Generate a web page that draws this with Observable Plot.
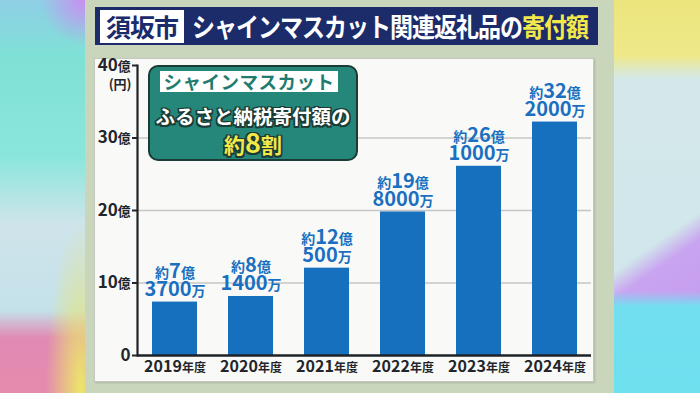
<!DOCTYPE html>
<html><head><meta charset="utf-8">
<script src="https://cdn.jsdelivr.net/npm/d3@7"></script>
<script src="https://cdn.jsdelivr.net/npm/@observablehq/plot@0.6"></script>
<style>
html,body{margin:0;padding:0;}
body{width:700px;height:393px;overflow:hidden;position:relative;font-family:"Noto Sans CJK JP","Noto Sans",sans-serif;}
.abs{position:absolute;}
#leftStrip{left:0;top:0;width:85px;height:393px;
 background:
  radial-gradient(circle at 100% 0%, #c98ef0 0px, rgba(201,142,240,0) 45px),
  radial-gradient(ellipse at 95% 100%, #ece66a 0px, rgba(236,230,106,0) 35px),
  linear-gradient(to bottom,#8fcfe6 0%,#7fe0d6 14%,#8ae6dc 40%,#cfe4ea 57%,#c4e1ea 79%,#e08ab4 86%,#e48bae 97%);}
#rightStrip{left:614px;top:0;width:86px;height:393px;
 background:
  linear-gradient(to bottom, rgba(112,224,238,0) 74%, #72dff0 78%, #6ee0ee 100%),
  linear-gradient(145deg, rgba(200,160,240,0) 60%, #c9a4f0 66%, #c49cf0 85%),
  linear-gradient(to bottom,#ece57e 0%,#eee888 14%,#d4e8ea 20%,#cfe6ec 100%);}
#midPanel{left:85px;top:0;width:529px;height:393px;background:#c9d6bc;}
#whitePanel{left:94px;top:58px;width:498px;height:322px;background:#f9faf7;border:1px solid #c3c8c0;box-shadow:1px 1px 2px rgba(0,0,0,0.15);}
#titleBar{left:95px;top:7px;width:503px;height:38px;background:#1c2b6a;}
#titleBox{left:100px;top:10px;width:84px;height:33px;background:#fff;color:#1c2b6a;font-size:25px;font-weight:bold;line-height:33px;text-align:center;letter-spacing:-1px;}
#titleText{left:192px;top:7px;height:38px;line-height:38px;font-size:23px;font-weight:bold;color:#fff;letter-spacing:-1px;white-space:nowrap;transform:scaleY(1.15);transform-origin:left center;}
#titleText .hl{color:#f3e84a;}
#legendBox{left:148px;top:65px;width:206px;height:92px;background:#24877a;border:2px solid #1b3c36;border-radius:10px;}
#legendTop{left:160px;top:71px;width:178px;height:21px;background:#fff;color:#217c6f;font-size:18.5px;font-weight:bold;line-height:21px;text-align:center;letter-spacing:0.5px;white-space:nowrap;}
.outl{text-shadow:-1.5px -1.5px 0 #1b3c36,1.5px -1.5px 0 #1b3c36,-1.5px 1.5px 0 #1b3c36,1.5px 1.5px 0 #1b3c36,0 1.5px 0 #1b3c36,0 -1.5px 0 #1b3c36,1.5px 0 0 #1b3c36,-1.5px 0 0 #1b3c36;}
#legendMid{left:148px;top:104px;width:210px;text-align:center;color:#fff;font-size:19.5px;font-weight:bold;line-height:24px;white-space:nowrap;}
#legendBot{left:148px;top:128px;width:210px;text-align:center;color:#f3e84a;font-size:21px;font-weight:bold;line-height:28px;white-space:nowrap;}
#legendBot .big{font-size:27px;}
#chart{left:0;top:0;}
</style></head>
<body>
<div id="leftStrip" class="abs"></div>
<div id="midPanel" class="abs"></div>
<div id="rightStrip" class="abs"></div>
<div id="titleBar" class="abs"></div>
<div id="titleBox" class="abs">須坂市</div>
<div id="titleText" class="abs">シャインマスカット関連返礼品の<span class="hl">寄付額</span></div>
<div id="whitePanel" class="abs"></div>
<div id="chart" class="abs"></div>
<div id="legendBox" class="abs"></div>
<div id="legendTop" class="abs">シャインマスカット</div>
<div id="legendMid" class="abs outl">ふるさと納税寄付額の</div>
<div id="legendBot" class="abs outl">約<span class="big">8</span>割</div>
<script>
const years = ["2019","2020","2021","2022","2023","2024"];
const values = [7.37, 8.14, 12.05, 19.8, 26.1, 32.2];
const okuLabels = ["7","8","12","19","26","32"];
const manLabels = ["3700","1400","500","8000","1000","2000"];
const yTicks = [0,10,20,30,40];
const gridTicks = [10,20,30];
const unitLabel = ["(円)"];

const data = years.map((y,i)=>({year:y, value:values[i], oku:okuLabels[i], man:manLabels[i]}));

const plot = Plot.plot({
  width:700, height:393,
  marginLeft:137, marginRight:109, marginTop:65, marginBottom:38,
  style:{background:"transparent", fontFamily:"'Noto Sans CJK JP', sans-serif", overflow:"visible"},
  x:{domain:years, paddingInner:0.41, paddingOuter:0.19, label:null},
  y:{domain:[0,40], label:null},
  marks:[
    Plot.ruleY(gridTicks, {stroke:"#c6c6c6", strokeWidth:1.5}),
    Plot.barY(data, {x:"year", y:"value", fill:"#1670be"}),
    Plot.frame({anchor:"left", stroke:"#1e2226", strokeWidth:2.2}),
    Plot.ruleY([0], {stroke:"#1e2226", strokeWidth:2.6}),
    Plot.axisY({ticks:yTicks, tickFormat:d=> d===0 ? "0" : d+"億", tickSize:5, tickPadding:2, fontSize:17, fontWeight:"bold", color:"#22262c", strokeWidth:2, label:null}),
    Plot.axisX({tickSize:0, tickPadding:5, fontSize:16, fontWeight:"bold", color:"#22262c", tickFormat:d=>d+"年度", label:null}),
    Plot.text(unitLabel, {frameAnchor:"top-left", dx:-6, dy:14, textAnchor:"end", fontSize:13, fontWeight:"bold", fill:"#22262c"}),
    Plot.text(data, {x:"year", y:"value", text:d=>`約${d.oku}億\n${d.man}万`, lineAnchor:"bottom", dy:-6, lineHeight:0.92, fontSize:20, fontWeight:"bold", fill:"#1b6fc0"})
  ]
});
document.getElementById("chart").appendChild(plot);

const SMALL = new Set(["約","億","万","年","度"]);
function shrink(el, ratio){
  const s = el.textContent;
  while (el.firstChild) el.removeChild(el.firstChild);
  let i = 0;
  while (i < s.length){
    const small = SMALL.has(s[i]);
    let j = i;
    while (j < s.length && SMALL.has(s[j]) === small) j++;
    const part = s.slice(i,j);
    if (small){
      const t = document.createElementNS("http://www.w3.org/2000/svg","tspan");
      t.setAttribute("font-size", (ratio*100)+"%");
      t.textContent = part;
      el.appendChild(t);
    } else {
      el.appendChild(document.createTextNode(part));
    }
    i = j;
  }
}
d3.select(plot).selectAll("text").each(function(){
  const tspans = this.querySelectorAll("tspan");
  const txt = this.textContent;
  const ratio = txt.includes("年") ? 0.75 : (tspans.length ? 0.7 : 0.75);
  if (tspans.length) tspans.forEach(t=>shrink(t, ratio));
  else shrink(this, ratio);
});
</script>
</body></html>
